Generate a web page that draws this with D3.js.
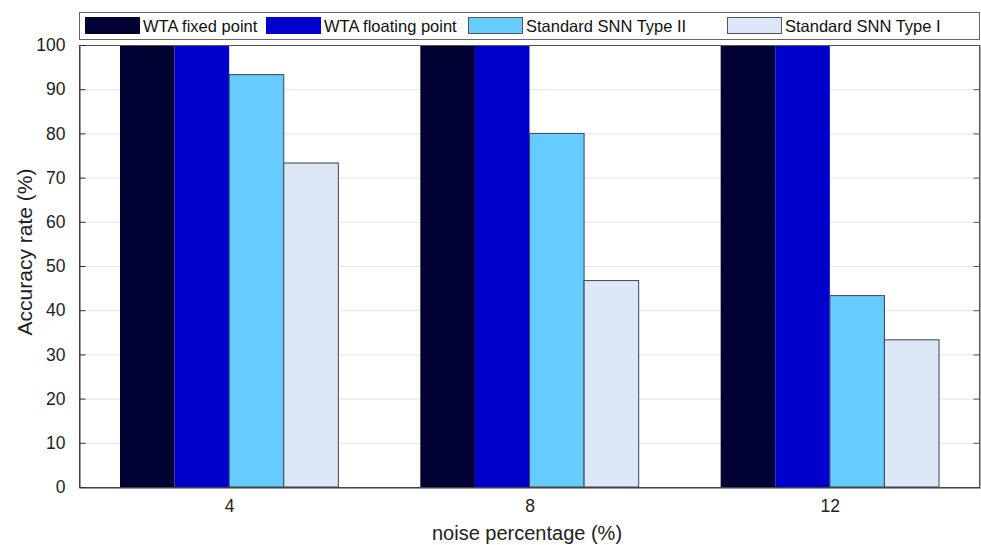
<!DOCTYPE html>
<html>
<head>
<meta charset="utf-8">
<script src="https://cdn.jsdelivr.net/npm/d3@7"></script>
<style>
  body { margin: 0; background: #fff; }
  svg { font-family: "Liberation Sans", Arial, sans-serif; }
</style>
</head>
<body>
<svg class="svg" width="981" height="545"></svg>
<script>
const noiseLevels = [4, 8, 12];
const seriesNames = ['WTA fixed point', 'WTA floating point', 'Standard SNN Type II', 'Standard SNN Type I'];
const wtaFixed = [100, 100, 100];
const wtaFloat = [100, 100, 100];
const snnType2 = [93.3, 80, 43.3];
const snnType1 = [73.3, 46.7, 33.3];
const yTicks = [0, 10, 20, 30, 40, 50, 60, 70, 80, 90, 100];

function drawChart () {
    const margin = { top: 45, right: 1, bottom: 58, left: 79 };
    const width = 981;
    const height = 545;
    const colors = ['#000033', '#0000cc', '#66ccff', '#dce8f8'];
    const allSeries = [wtaFixed, wtaFloat, snnType2, snnType1];

    const svg = d3.select('.svg');

    const xScale = d3.scaleLinear()
        .domain([2, 14])
        .range([margin.left, width - margin.right]);
    const yScale = d3.scaleLinear()
        .domain([0, 100])
        .range([height - margin.bottom, margin.top]);

    const barW = 0.727; // in x units
    const unit = xScale(1) - xScale(0);

    // grid
    svg.append('g')
        .selectAll('line')
        .data(yTicks.filter(t => t > 0 && t < 100)).enter()
        .append('line')
        .attr('x1', margin.left)
        .attr('x2', width - margin.right)
        .attr('y1', d => yScale(d) + 0.5)
        .attr('y2', d => yScale(d) + 0.5)
        .attr('stroke', '#e4e4e4')
        .attr('stroke-width', 1);

    // bars
    allSeries.forEach((vals, i) => {
        svg.append('g')
            .selectAll('rect')
            .data(vals).enter()
            .append('rect')
            .attr('x', (d, j) => xScale(noiseLevels[j] + (i - 2) * barW))
            .attr('y', d => yScale(d))
            .attr('width', barW * unit)
            .attr('height', d => yScale(0) - yScale(d))
            .attr('fill', colors[i])
            .attr('stroke', i < 2 ? 'none' : '#3a4450')
            .attr('stroke-width', 1);
    });

    // frame
    svg.append('rect')
        .attr('x', margin.left + 0.5)
        .attr('y', margin.top + 0.5)
        .attr('width', width - margin.right - margin.left - 1)
        .attr('height', height - margin.bottom - margin.top)
        .attr('fill', 'none')
        .attr('stroke', '#555')
        .attr('stroke-width', 1);

    // y axis
    const yAxis = d3.axisLeft(yScale).tickValues(yTicks).tickSize(-6).tickPadding(14);
    const yG = svg.append('g')
        .attr('transform', `translate(${margin.left + 0.5}, 0)`)
        .call(yAxis);
    yG.select('.domain').attr('stroke', '#333');
    yG.selectAll('.tick line').attr('stroke', '#333');
    yG.selectAll('text').style('font-size', '17.5px').attr('fill', '#222');

    const yR = svg.append('g')
        .attr('transform', `translate(${width - margin.right - 0.5}, 0)`)
        .call(d3.axisRight(yScale).tickValues(yTicks).tickSize(-6).tickFormat(''));
    yR.select('.domain').attr('stroke', '#555');
    yR.selectAll('.tick line').attr('stroke', '#555');

    // x axis
    const xAxis = d3.axisBottom(xScale).tickValues(noiseLevels).tickSize(0).tickPadding(12);
    const xG = svg.append('g')
        .attr('transform', `translate(0, ${height - margin.bottom + 0.5})`)
        .call(xAxis);
    xG.select('.domain').attr('stroke', '#333');
    xG.selectAll('text').style('font-size', '17.5px').attr('fill', '#222');

    // axis titles
    svg.append('text')
        .attr('x', 527)
        .attr('y', 540)
        .attr('text-anchor', 'middle')
        .style('font-size', '20px')
        .attr('fill', '#222')
        .text('noise percentage (%)');

    svg.append('text')
        .attr('transform', 'rotate(-90)')
        .attr('x', -252)
        .attr('y', 32)
        .attr('text-anchor', 'middle')
        .style('font-size', '21px')
        .attr('fill', '#222')
        .text('Accuracy rate (%)');

    // legend
    const legend = svg.append('g').attr('class', 'legend');
    legend.append('rect')
        .attr('x', margin.left + 0.5)
        .attr('y', 12.5)
        .attr('width', width - margin.right - margin.left - 1)
        .attr('height', 27)
        .attr('fill', '#fff')
        .attr('stroke', '#666');

    const legendX = [85, 266, 468, 727];
    seriesNames.forEach((name, i) => {
        legend.append('rect')
            .attr('x', legendX[i] + 0.5)
            .attr('y', 17.5)
            .attr('width', 54)
            .attr('height', 16)
            .attr('fill', colors[i])
            .attr('stroke', i < 2 ? colors[i] : '#555');
        legend.append('text')
            .attr('x', legendX[i] + 58)
            .attr('y', 31.5)
            .style('font-size', '16.5px')
            .attr('fill', '#111')
            .text(name);
    });
}

document.addEventListener('DOMContentLoaded', drawChart);
</script>
</body>
</html>
